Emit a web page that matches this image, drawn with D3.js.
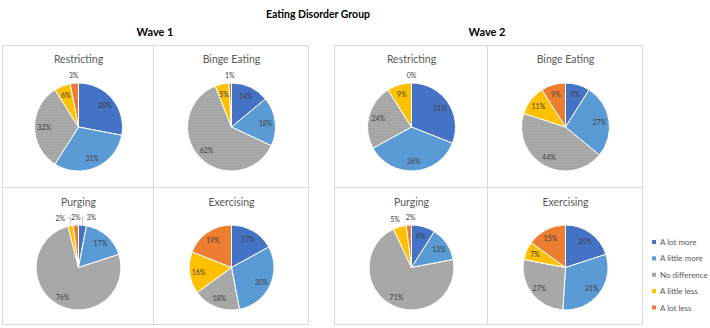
<!DOCTYPE html>
<html>
<head>
<meta charset="utf-8">
<script src="https://cdn.jsdelivr.net/npm/d3@7"></script>
<style>
  body { margin: 0; background: #fff; }
  svg { font-family: Lato, 'Open Sans', sans-serif; }
</style>
</head>
<body>
<div id="chart-area"></div>
<script>
// data
const categories = ['A lot more', 'A little more', 'No difference', 'A little less', 'A lot less'];
const behaviours = ['Restricting', 'Binge Eating', 'Purging', 'Exercising'];
const waves = ['Wave 1', 'Wave 2'];
const wave1Restricting = [28, 31, 32, 6, 3];
const wave1Binge = [14, 18, 62, 5, 1];
const wave1Purging = [3, 17, 76, 2, 2];
const wave1Exercising = [17, 30, 18, 16, 19];
const wave2Restricting = [31, 36, 24, 9, 0];
const wave2Binge = [9, 27, 44, 11, 9];
const wave2Purging = [9, 13, 71, 5, 2];
const wave2Exercising = [20, 31, 27, 7, 15];

const waveData = [
  [wave1Restricting, wave1Binge, wave1Purging, wave1Exercising],
  [wave2Restricting, wave2Binge, wave2Purging, wave2Exercising]
];

const colors = ['#4472C4', '#5B9BD5', 'url(#greyDots)', '#FFC000', '#ED7D31'];
const legendColors = ['#4472C4', '#5B9BD5', '#A5A5A5', '#FFC000', '#ED7D31'];

const width = 710, height = 328;
const svg = d3.select('#chart-area')
  .append('svg')
  .attr('width', width)
  .attr('height', height);

// dotted grey fill like the original
const pat = svg.append('defs').append('pattern')
  .attr('id', 'greyDots')
  .attr('patternUnits', 'userSpaceOnUse')
  .attr('width', 2)
  .attr('height', 2);
pat.append('rect').attr('width', 2).attr('height', 2).attr('fill', '#a2a2a2');
pat.append('rect').attr('width', 1).attr('height', 1).attr('fill', '#b8b8b8');

// titles
svg.append('text')
  .attr('x', 318).attr('y', 14)
  .attr('text-anchor', 'middle')
  .attr('dominant-baseline', 'central')
  .attr('font-size', '10.5px')
  .attr('font-weight', 'bold')
  .text('Eating Disorder Group');

// group layout
const groups = [
  { x0: 2, xs: [2, 153, 308], titleX: 155 },
  { x0: 334, xs: [334, 487, 642], titleX: 487 }
];
const rows = [45, 187, 324];
const rowPie = [{ cy: 127, r: 44, ty: 59 }, { cy: 267.5, r: 42.5, ty: 202 }];

const pie = d3.pie().sort(null).value(d => d);

const drawPie = (g, values, cx, row, title) => {
  const { cy, r, ty } = rowPie[row];
  g.append('text')
    .attr('x', cx).attr('y', ty)
    .attr('text-anchor', 'middle')
    .attr('dominant-baseline', 'central')
    .attr('font-size', '10.5px')
    .attr('fill', '#595959')
    .text(title);

  const arcs = pie(values);
  const arc = d3.arc().innerRadius(0).outerRadius(r);
  const pg = g.append('g').attr('transform', `translate(${cx}, ${cy})`);
  pg.selectAll('path')
    .data(arcs)
    .enter()
    .append('path')
    .attr('d', arc)
    .attr('fill', (d, i) => colors[i])
    .attr('stroke', '#fff')
    .attr('stroke-width', 1);

  // labels: inside for larger slices, outside for the small ones
  const inArc = d3.arc().innerRadius(r * 0.78).outerRadius(r * 0.78);
  const outArc = d3.arc().innerRadius(r + 8).outerRadius(r + 8);
  const edgeArc = d3.arc().innerRadius(r).outerRadius(r);
  const labels = arcs.map((d, i) => {
    const outside = d.data < 6 && !(d.data === 5 && values[2] < 70);
    const p = (outside ? outArc : inArc).centroid(d);
    return { d, outside, x: p[0], y: p[1], x0: p[0], text: d.data + '%' };
  });
  // spread overlapping outside labels
  const outs = labels.filter(l => l.outside).sort((a, b) => a.x - b.x);
  if (outs.length > 1) {
    const gap = 15.5;
    let needs = outs.some((l, i) => i > 0 && l.x - outs[i - 1].x < gap);
    if (needs) {
      const mean = d3.mean(outs, l => l.x);
      outs.forEach((l, i) => { l.x = mean + (i - (outs.length - 1) / 2) * gap; });
    }
  }
  labels.forEach(l => {
    if (l.outside && Math.abs(l.x - l.x0) > 3) {
      const e = edgeArc.centroid(l.d);
      const side = l.x < e[0] ? 1 : -1;
      pg.append('polyline')
        .attr('points', `${e[0]},${e[1]} ${e[0]},${l.y} ${l.x + side * 7},${l.y}`)
        .attr('fill', 'none')
        .attr('stroke', '#a6a6a6')
        .attr('stroke-width', 0.6);
    }
    pg.append('text')
      .attr('x', l.x).attr('y', l.y)
      .attr('text-anchor', 'middle')
      .attr('dominant-baseline', 'central')
      .attr('font-size', '7px')
      .attr('fill', '#404040')
      .text(l.text);
  });
};

groups.forEach((grp, w) => {
  const g = svg.append('g');
  g.append('text')
    .attr('x', grp.titleX).attr('y', 31)
    .attr('text-anchor', 'middle')
    .attr('dominant-baseline', 'central')
    .attr('font-size', '11px')
    .attr('font-weight', 'bold')
    .text(waves[w]);
  // panel frames
  [0, 1].forEach(rw => [0, 1].forEach(c => {
    g.append('rect')
      .attr('x', grp.xs[c] + 0.5).attr('y', rows[rw] + 0.5)
      .attr('width', grp.xs[c + 1] - grp.xs[c])
      .attr('height', rows[rw + 1] - rows[rw])
      .attr('fill', 'none')
      .attr('stroke', '#d9d9d9')
      .attr('stroke-width', 1);
  }));
  behaviours.forEach((b, k) => {
    const rw = Math.floor(k / 2), c = k % 2;
    const cx = (grp.xs[c] + grp.xs[c + 1]) / 2 + 1;
    drawPie(g, waveData[w][k], cx, rw, b);
  });
});

// legend
const legend = svg.append('g').attr('transform', 'translate(652, 242)');
const ly = d3.scalePoint().domain(categories).range([0, 65.5]);
categories.forEach((c, i) => {
  legend.append('rect')
    .attr('x', 0).attr('y', ly(c) - 2)
    .attr('width', 4).attr('height', 4)
    .attr('fill', legendColors[i]);
  legend.append('text')
    .attr('x', 8).attr('y', ly(c))
    .attr('dominant-baseline', 'central')
    .attr('font-size', '8px')
    .attr('fill', '#595959')
    .text(c);
});
</script>
</body>
</html>
